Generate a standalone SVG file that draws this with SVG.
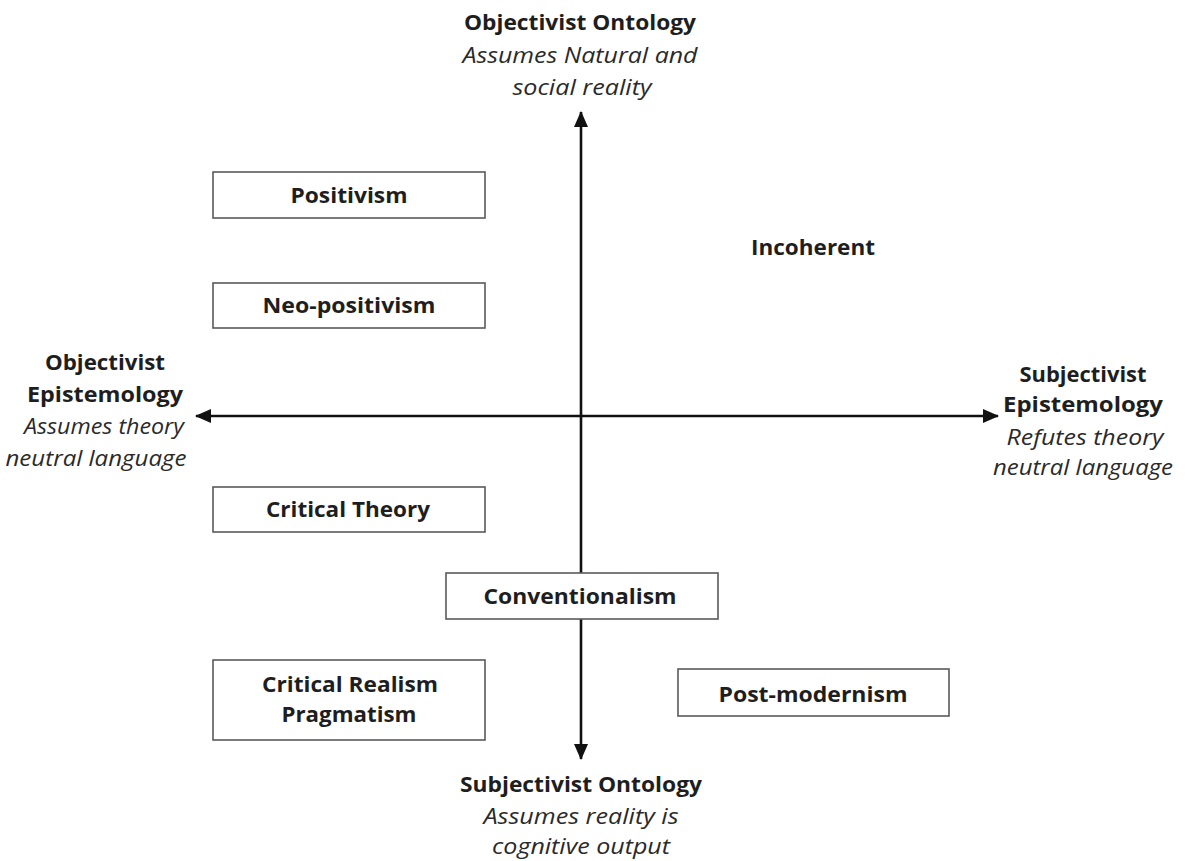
<svg xmlns="http://www.w3.org/2000/svg" width="1189" height="861" viewBox="0 0 1189 861">
  <style>
    .b { font-family: "Open Sans", "Liberation Sans", sans-serif; font-weight: bold; font-size: 21px; fill: #1e1e1e; text-anchor: middle; }
    .i { font-family: "Open Sans", "Liberation Sans", sans-serif; font-style: italic; font-size: 21px; fill: #2a2a2a; text-anchor: middle; }
    .box { fill: #ffffff; stroke: #5a5a5a; stroke-width: 1.6; }
    .axis { stroke: #111111; stroke-width: 2.6; fill: none; }
  </style>
  <defs>
    <marker id="arrow" viewBox="0 0 16 14" refX="15" refY="7" markerWidth="16" markerHeight="14" markerUnits="userSpaceOnUse" orient="auto">
      <path d="M0,0 L16,7 L0,14 Z" fill="#111111"/>
    </marker>
  </defs>
  <rect width="1189" height="861" fill="#ffffff"/>

  <!-- axes -->
  <g id="connectors">
    <line class="axis" x1="581" y1="415" x2="581" y2="112" marker-end="url(#arrow)"/>
    <line class="axis" x1="581" y1="415" x2="581" y2="759" marker-end="url(#arrow)"/>
    <line class="axis" x1="581" y1="416" x2="196" y2="416" marker-end="url(#arrow)"/>
    <line class="axis" x1="581" y1="416" x2="998" y2="416" marker-end="url(#arrow)"/>
  </g>

  <!-- axis pole labels -->
  <g id="objectivist-ontology">
    <text class="b" x="580" y="30" textLength="232" lengthAdjust="spacingAndGlyphs">Objectivist Ontology</text>
    <text class="i" x="580" y="63" textLength="235" lengthAdjust="spacingAndGlyphs">Assumes Natural and</text>
    <text class="i" x="582" y="95" textLength="139" lengthAdjust="spacingAndGlyphs">social reality</text>
  </g>
  <g id="subjectivist-ontology">
    <text class="b" x="581" y="792" textLength="242" lengthAdjust="spacingAndGlyphs">Subjectivist Ontology</text>
    <text class="i" x="581" y="824" textLength="195" lengthAdjust="spacingAndGlyphs">Assumes reality is</text>
    <text class="i" x="581" y="854" textLength="178" lengthAdjust="spacingAndGlyphs">cognitive output</text>
  </g>
  <g id="objectivist-epistemology">
    <text class="b" x="105" y="370" textLength="120" lengthAdjust="spacingAndGlyphs">Objectivist</text>
    <text class="b" x="105" y="402" textLength="156" lengthAdjust="spacingAndGlyphs">Epistemology</text>
    <text class="i" x="104" y="434" textLength="160" lengthAdjust="spacingAndGlyphs">Assumes theory</text>
    <text class="i" x="96" y="466" textLength="181" lengthAdjust="spacingAndGlyphs">neutral language</text>
  </g>
  <g id="subjectivist-epistemology">
    <text class="b" x="1083" y="382" textLength="127" lengthAdjust="spacingAndGlyphs">Subjectivist</text>
    <text class="b" x="1083" y="412" textLength="160" lengthAdjust="spacingAndGlyphs">Epistemology</text>
    <text class="i" x="1085" y="445" textLength="157" lengthAdjust="spacingAndGlyphs">Refutes theory</text>
    <text class="i" x="1083" y="475" textLength="180" lengthAdjust="spacingAndGlyphs">neutral language</text>
  </g>

  <!-- paradigm nodes -->
  <g id="positivism">
    <rect class="box" x="213" y="172" width="272" height="46"/>
    <text class="b" x="349" y="203" textLength="117" lengthAdjust="spacingAndGlyphs">Positivism</text>
  </g>
  <g id="neo-positivism">
    <rect class="box" x="213" y="283" width="272" height="45"/>
    <text class="b" x="349" y="313" textLength="173" lengthAdjust="spacingAndGlyphs">Neo-positivism</text>
  </g>
  <g id="incoherent">
    <text class="b" x="813" y="255" textLength="124" lengthAdjust="spacingAndGlyphs">Incoherent</text>
  </g>
  <g id="critical-theory">
    <rect class="box" x="213" y="487" width="272" height="45"/>
    <text class="b" x="348" y="517" textLength="164" lengthAdjust="spacingAndGlyphs">Critical Theory</text>
  </g>
  <g id="conventionalism">
    <rect class="box" x="446" y="573" width="272" height="46"/>
    <text class="b" x="580" y="604" textLength="193" lengthAdjust="spacingAndGlyphs">Conventionalism</text>
  </g>
  <g id="critical-realism-pragmatism">
    <rect class="box" x="213" y="660" width="272" height="80"/>
    <text class="b" x="350" y="692" textLength="176" lengthAdjust="spacingAndGlyphs">Critical Realism</text>
    <text class="b" x="349" y="722" textLength="135" lengthAdjust="spacingAndGlyphs">Pragmatism</text>
  </g>
  <g id="post-modernism">
    <rect class="box" x="678" y="669" width="271" height="47"/>
    <text class="b" x="813" y="702" textLength="189" lengthAdjust="spacingAndGlyphs">Post-modernism</text>
  </g>
</svg>
